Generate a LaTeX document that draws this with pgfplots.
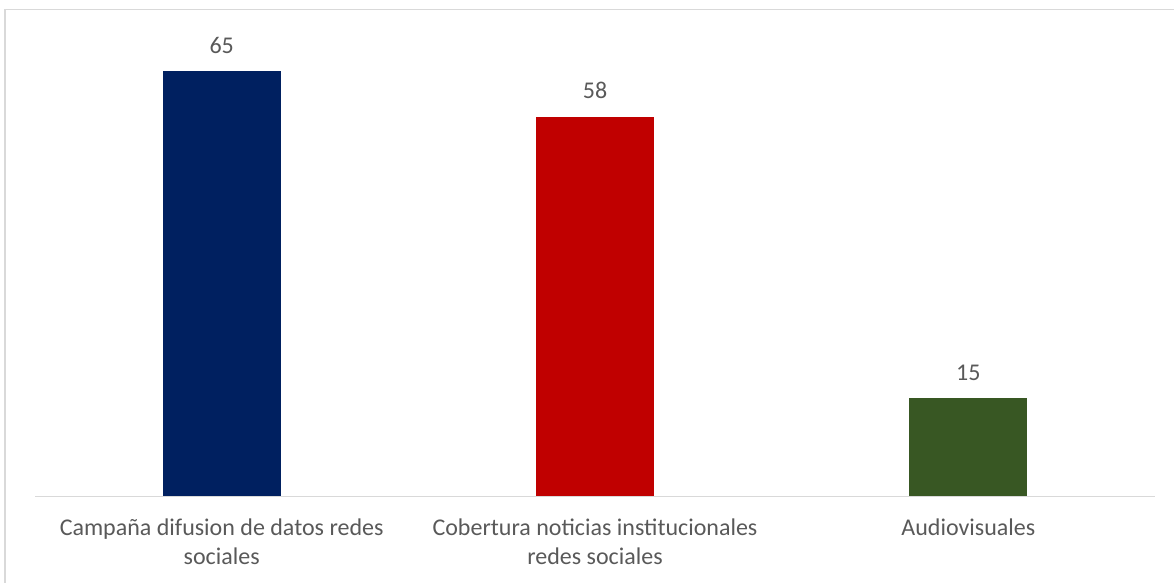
\documentclass[border=0pt]{standalone}
\usepackage{pgfplots}
\pgfplotsset{compat=1.18}
\usepackage{fontspec}
\setmainfont{Carlito}
\definecolor{navybar}{HTML}{002060}
\definecolor{redbar}{HTML}{C00000}
\definecolor{greenbar}{HTML}{385723}
\definecolor{txtgray}{HTML}{595959}
\definecolor{linegray}{HTML}{D9D9D9}
\begin{document}
\begin{tikzpicture}
\useasboundingbox (0,0) rectangle (587pt,291.5pt);
\draw[linegray, line width=0.6pt] (2.5pt,0) -- (2.5pt,286.75pt) -- (587pt,286.75pt);
\begin{axis}[
    at={(17.5pt,43.25pt)}, anchor=south west,
    scale only axis,
    width=560pt, height=228.9pt,
    ybar, bar width=59pt, bar shift=0pt,
    xmin=-0.5, xmax=2.5, ymin=0, ymax=70,
    axis y line=none,
    axis x line*=bottom,
    x axis line style={linegray, line width=0.75pt, -},
    xtick={0,1,2},
    xticklabels={{Campaña difusion de datos redes\\sociales},{Cobertura noticias institucionales\\redes sociales},{Audiovisuales}},
    major tick length=0pt,
    xticklabel style={align=center, text=txtgray, font=\fontsize{12}{14.5}\selectfont, yshift=-7.5pt},
    nodes near coords,
    every node near coord/.append style={text=txtgray, font=\fontsize{12}{14.5}\selectfont, yshift=5.5pt},
    /pgf/number format/assume math mode=true,
    clip=false,
]
\addplot[draw=none, fill=navybar] coordinates {(0,65)};
\addplot[draw=none, fill=redbar] coordinates {(1,58)};
\addplot[draw=none, fill=greenbar] coordinates {(2,15)};
\end{axis}
\end{tikzpicture}
\end{document}
